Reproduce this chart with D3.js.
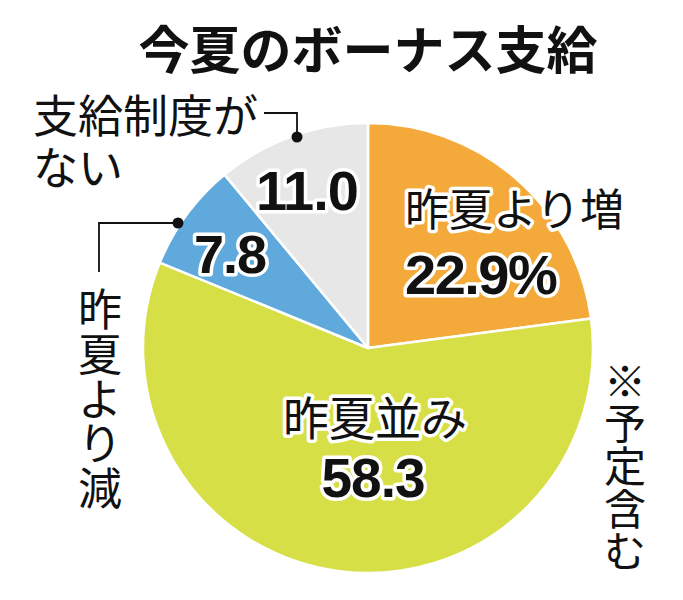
<!DOCTYPE html>
<html>
<head>
<meta charset="utf-8">
<script src="https://cdn.jsdelivr.net/npm/d3@7/dist/d3.min.js"></script>
<style>
  html, body { margin: 0; padding: 0; background: #fff; }
  svg { display: block; }
</style>
</head>
<body>
<svg id="chart" width="683" height="600"></svg>
<script>
// ---- data ----
const categories = ["昨夏より増", "昨夏並み", "昨夏より減", "支給制度がない"];
const values = [22.9, 58.3, 7.8, 11.0];
const valueLabels = ["22.9%", "58.3", "7.8", "11.0"];
const colors = ["#F4AA3A", "#D7DF47", "#60A9DD", "#E7E7E7"];
const title = "今夏のボーナス支給";
const note = "※予定含む";

const svg = d3.select("#chart");
const cx = 368, cy = 348, R = 225;

const jpFont = "'Noto Sans CJK JP', 'Noto Sans', sans-serif";
const numFont = "'Liberation Sans', Arial, sans-serif";

// title
svg.append("text")
  .attr("x", cx).attr("y", 47)
  .attr("text-anchor", "middle")
  .attr("dominant-baseline", "central")
  .attr("font-family", jpFont)
  .attr("font-weight", 700)
  .attr("font-size", 51)
  .attr("fill", "#111")
  .text(title);

// pie
const pie = d3.pie().sort(null).value(d => d)(values);
const arc = d3.arc().innerRadius(0).outerRadius(R);
const g = svg.append("g").attr("transform", `translate(${cx},${cy})`);
g.selectAll("path.slice")
  .data(pie)
  .join("path")
  .attr("class", "slice")
  .attr("d", arc)
  .attr("fill", (d, i) => colors[i])
  .attr("stroke", "#fff")
  .attr("stroke-width", 2.5)
  .attr("stroke-linejoin", "round");

function haloText(sel) {
  return sel.attr("stroke", "#fff")
    .attr("stroke-width", 7)
    .attr("stroke-linejoin", "round")
    .attr("paint-order", "stroke")
    .attr("fill", "#111");
}

// 昨夏より増 / 22.9%
haloText(svg.append("text")
  .attr("x", 405).attr("y", 207)
  .attr("dominant-baseline", "central")
  .attr("font-family", jpFont).attr("font-weight", 400).attr("font-size", 44))
  .text(categories[0]);
haloText(svg.append("text")
  .attr("x", 405).attr("y", 294)
  .attr("font-family", numFont).attr("font-weight", 700).attr("font-size", 56)
  .attr("letter-spacing", -1.5))
  .text(valueLabels[0]);

// 昨夏並み / 58.3
haloText(svg.append("text")
  .attr("x", 375).attr("y", 415)
  .attr("text-anchor", "middle")
  .attr("dominant-baseline", "central")
  .attr("font-family", jpFont).attr("font-weight", 400).attr("font-size", 46))
  .text(categories[1]);
haloText(svg.append("text")
  .attr("x", 373).attr("y", 497)
  .attr("text-anchor", "middle")
  .attr("font-family", numFont).attr("font-weight", 700).attr("font-size", 55)
  .attr("letter-spacing", -1))
  .text(valueLabels[1]);

// 7.8
haloText(svg.append("text")
  .attr("x", 194).attr("y", 273)
  .attr("font-family", numFont).attr("font-weight", 700).attr("font-size", 54)
  .attr("letter-spacing", -1))
  .text(valueLabels[2]);

// 11.0
haloText(svg.append("text")
  .attr("x", 256).attr("y", 210)
  .attr("font-family", numFont).attr("font-weight", 700).attr("font-size", 56)
  .attr("letter-spacing", -1))
  .text(valueLabels[3]);

// outside label: 支給制度が / ない
const lab4 = categories[3];
svg.append("text")
  .attr("x", 33).attr("y", 113)
  .attr("dominant-baseline", "central")
  .attr("font-family", jpFont).attr("font-weight", 400).attr("font-size", 45)
  .attr("fill", "#111")
  .text(lab4.slice(0, 5));
svg.append("text")
  .attr("x", 33).attr("y", 165)
  .attr("dominant-baseline", "central")
  .attr("font-family", jpFont).attr("font-weight", 400).attr("font-size", 45)
  .attr("fill", "#111")
  .text(lab4.slice(5));

// leader lines
const leader = svg.append("g").attr("fill", "none").attr("stroke", "#111").attr("stroke-width", 1.8);
leader.append("path").attr("d", "M264,113 H297 V137");
leader.append("path").attr("d", "M178,223 H99 V272");
svg.append("circle").attr("cx", 297).attr("cy", 137).attr("r", 5.5).attr("fill", "#111");
svg.append("circle").attr("cx", 178).attr("cy", 223).attr("r", 5.5).attr("fill", "#111");

// vertical texts, one character per text element
function verticalText(str, x, yTop, step, size) {
  const chars = Array.from(str);
  svg.append("g").selectAll("text")
    .data(chars)
    .join("text")
    .attr("x", x)
    .attr("y", (d, i) => yTop + step / 2 + i * step)
    .attr("text-anchor", "middle")
    .attr("dominant-baseline", "central")
    .attr("font-family", jpFont).attr("font-weight", 400).attr("font-size", size)
    .attr("fill", "#111")
    .text(d => d);
}
verticalText(categories[2], 100, 285, 44.6, 44);
verticalText(note, 625, 357, 42.6, 42);
</script>
</body>
</html>
